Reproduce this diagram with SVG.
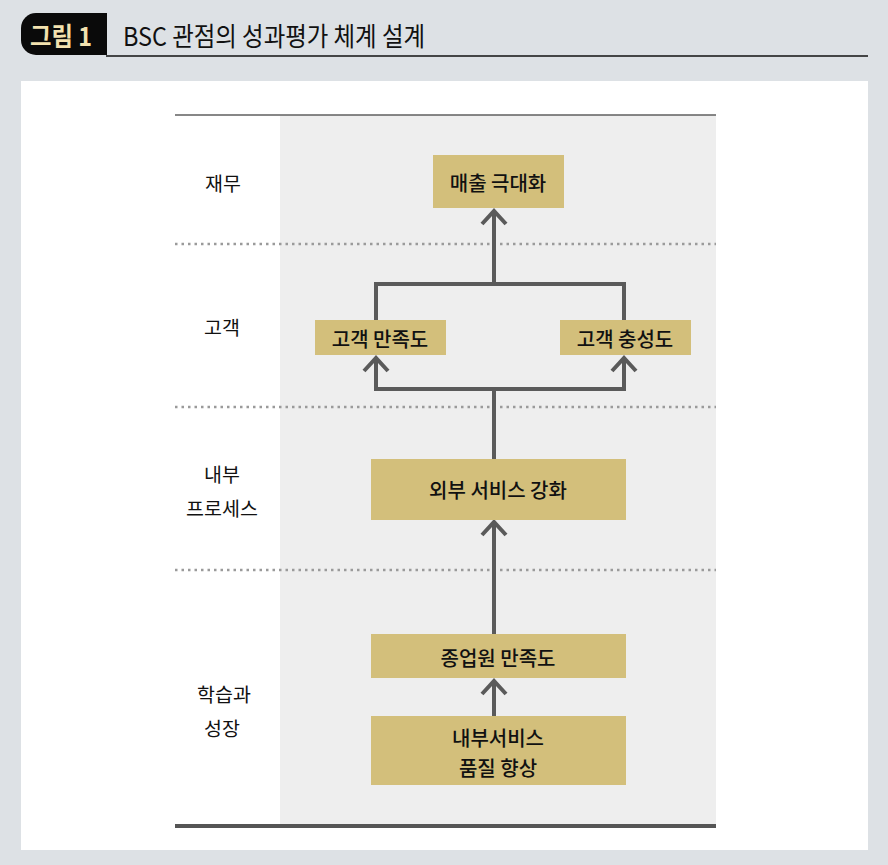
<svg xmlns="http://www.w3.org/2000/svg" width="888" height="865" viewBox="0 0 888 865">
<defs>
<style>
.kr{font-family:"Noto Sans CJK KR","Noto Sans",sans-serif;}
.lbl{font-family:"Noto Sans CJK KR","Noto Sans",sans-serif;font-size:19.5px;fill:#111;text-anchor:middle;dominant-baseline:central;}
.btxt{font-family:"Noto Sans CJK KR","Noto Sans",sans-serif;font-size:20px;font-weight:500;fill:#111;text-anchor:middle;dominant-baseline:central;}
.box{fill:#d3bf7b;}
.dot{stroke:#9a9a9a;stroke-width:2.5;stroke-dasharray:2.5 4;fill:none;}
.con{stroke:#5a5a5a;stroke-width:4;fill:none;stroke-linejoin:miter;}
</style>
<marker id="chev" markerUnits="userSpaceOnUse" viewBox="-16 -14 20 28" refX="0" refY="0" markerWidth="20" markerHeight="28" orient="auto">
<path d="M-13,-12 L0,0 L-13,12" fill="none" stroke="#5a5a5a" stroke-width="4"/>
</marker>
</defs>
<rect x="0" y="0" width="888" height="865" fill="#dde1e5"/>
<g id="header">
<path d="M36,13 H107 V55 H36 A15,15 0 0 1 21,40 V28 A15,15 0 0 1 36,13 Z" fill="#0a0a0a"/>
<text x="30" y="46" class="kr" font-size="26" font-weight="700" fill="#f3e2af" textLength="62" lengthAdjust="spacingAndGlyphs">그림 1</text>
<text x="123" y="46" class="kr" font-size="26" fill="#111" textLength="302" lengthAdjust="spacingAndGlyphs">BSC 관점의 성과평가 체계 설계</text>
<line x1="106" y1="56" x2="868" y2="56" stroke="#111" stroke-width="1.5"/>
</g>
<rect x="21" y="81" width="847" height="769" fill="#ffffff"/>
<rect x="280" y="115" width="436" height="711" fill="#eeeeee"/>
<line x1="175" y1="115" x2="716" y2="115" stroke="#5f5f5f" stroke-width="1.5"/>
<line x1="175" y1="826" x2="716" y2="826" stroke="#555" stroke-width="4"/>
<g id="dividers">
<line class="dot" x1="175" y1="244" x2="716" y2="244"/>
<line class="dot" x1="175" y1="407" x2="716" y2="407"/>
<line class="dot" x1="175" y1="570" x2="716" y2="570"/>
</g>
<g id="labels">
<text class="lbl" x="223" y="182">재무</text>
<text class="lbl" x="222" y="326">고객</text>
<text class="lbl" x="222" y="473">내부</text>
<text class="lbl" x="222" y="507">프로세스</text>
<text class="lbl" x="224" y="693">학습과</text>
<text class="lbl" x="222" y="727">성장</text>
</g>
<g id="connectors">
<path class="con" d="M494,284 V211" marker-end="url(#chev)"/>
<path class="con" d="M376,320 V284 H624 V320"/>
<path class="con" d="M376,389 H624"/>
<path class="con" d="M376,391 V358" marker-end="url(#chev)"/>
<path class="con" d="M624,391 V358" marker-end="url(#chev)"/>
<path class="con" d="M494,459 V389"/>
<path class="con" d="M494,634 V522" marker-end="url(#chev)"/>
<path class="con" d="M494,716 V681" marker-end="url(#chev)"/>
</g>
<g id="n-sales">
<rect class="box" x="433" y="155" width="131" height="53"/>
<text class="btxt" x="498" y="182">매출 극대화</text>
</g>
<g id="n-cust-sat">
<rect class="box" x="315" y="320" width="131" height="35"/>
<text class="btxt" x="380" y="338">고객 만족도</text>
</g>
<g id="n-cust-loy">
<rect class="box" x="560" y="320" width="131" height="35"/>
<text class="btxt" x="625" y="338">고객 충성도</text>
</g>
<g id="n-ext">
<rect class="box" x="371" y="459" width="255" height="61"/>
<text class="btxt" x="498" y="489">외부 서비스 강화</text>
</g>
<g id="n-emp">
<rect class="box" x="371" y="634" width="255" height="44"/>
<text class="btxt" x="498" y="657">종업원 만족도</text>
</g>
<g id="n-int">
<rect class="box" x="371" y="716" width="255" height="69"/>
<text class="btxt" x="498" y="737">내부서비스</text>
<text class="btxt" x="498" y="767">품질 향상</text>
</g>
</svg>
